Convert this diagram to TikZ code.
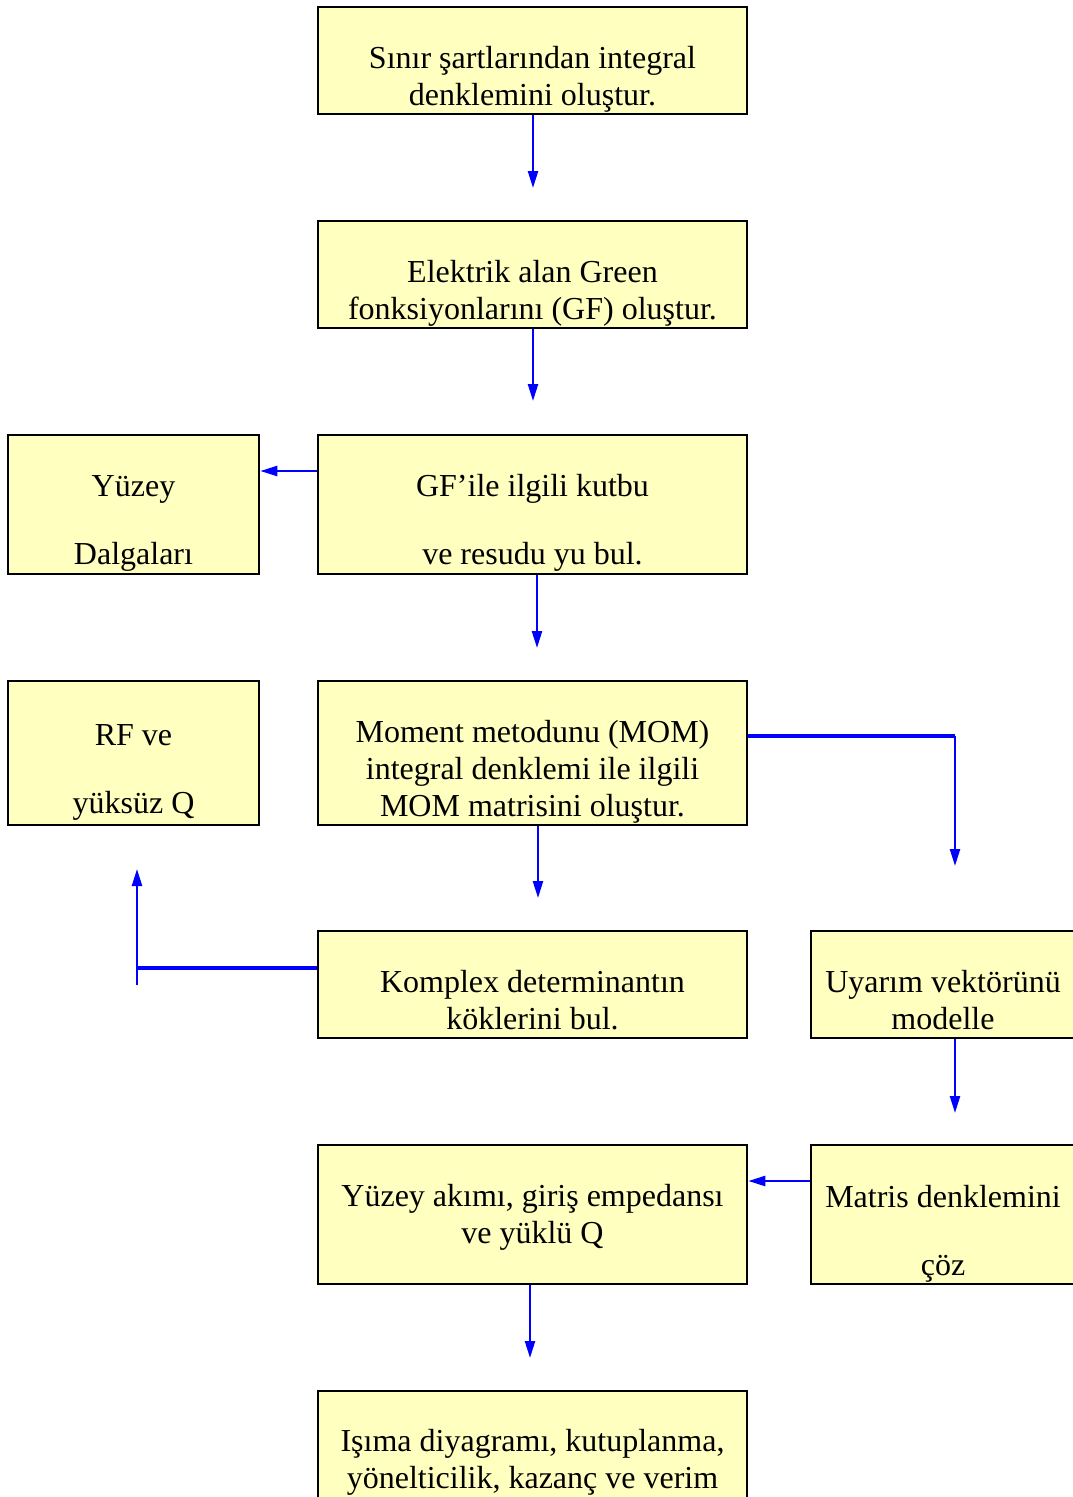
\documentclass[tikz,border=0pt]{standalone}
\usepackage{fontspec}
\setmainfont{Liberation Serif}
\usetikzlibrary{arrows.meta}
\definecolor{boxfill}{HTML}{FFFFC0}
\definecolor{linkblue}{HTML}{0000FF}
\tikzset{
  box/.style={draw=black, line width=2.6pt, fill=boxfill, rectangle, inner sep=0pt},
  txt/.style={align=center, anchor=base, inner sep=0pt, font=\fontsize{32}{37}\selectfont},
  arr/.style={draw=linkblue, line width=2.4pt, -{Triangle[length=17pt,width=10pt]}},
  link/.style={draw=linkblue, line width=3.2pt},
}
\begin{document}
\begin{tikzpicture}[x=1pt,y=-1pt]
\useasboundingbox (0,0) rectangle (1073,1497);
\clip (0,0) rectangle (1073,1497);
% boxes
\node[box, minimum width=429pt, minimum height=107pt] (A) at (532.5,60.5) {};
\node[box, minimum width=429pt, minimum height=107pt] (B) at (532.5,274.5) {};
\node[box, minimum width=429pt, minimum height=139pt] (C) at (532.5,504.5) {};
\node[box, minimum width=251pt, minimum height=139pt] (S) at (133.5,504.5) {};
\node[box, minimum width=429pt, minimum height=144pt] (M) at (532.5,753) {};
\node[box, minimum width=251pt, minimum height=144pt] (R) at (133.5,753) {};
\node[box, minimum width=429pt, minimum height=107pt] (K) at (532.5,984.5) {};
\node[box, minimum width=264pt, minimum height=107pt] (U) at (943,984.5) {};
\node[box, minimum width=429pt, minimum height=139pt] (Y) at (532.5,1214.5) {};
\node[box, minimum width=264pt, minimum height=139pt] (D) at (943,1214.5) {};
\node[box, minimum width=429pt, minimum height=107pt] (I) at (532.5,1444.5) {};
% texts (anchor = baseline of last line)
\node[txt] (tA) at (532.5,105) {Sınır şartlarından integral\\denklemini oluştur.};
\node[txt] (tB) at (532.5,319) {Elektrik alan Green\\fonksiyonlarını (GF) oluştur.};
\node[txt] (tC) at (532.5,564) {GF’ile ilgili kutbu\\[31pt]ve resudu yu bul.};
\node[txt] (tS) at (133.5,564) {Yüzey\\[31pt]Dalgaları};
\node[txt] (tM) at (532.5,816) {Moment metodunu (MOM)\\integral denklemi ile ilgili\\MOM matrisini oluştur.};
\node[txt] (tR) at (133.5,813) {RF ve\\[31pt]yüksüz Q};
\node[txt] (tK) at (532.5,1029) {Komplex determinantın\\köklerini bul.};
\node[txt] (tU) at (943,1029) {Uyarım vektörünü\\modelle};
\node[txt] (tY) at (532.5,1243) {Yüzey akımı, giriş empedansı\\ve yüklü Q};
\node[txt] (tD) at (943,1275) {Matris denklemini\\[31pt]çöz};
\node[txt] (tI) at (532.5,1488) {Işıma diyagramı, kutuplanma,\\yönelticilik, kazanç ve verim};
% free ends
\coordinate (eA) at (533,188);
\coordinate (eB) at (533,401);
\coordinate (eC) at (537,648);
\coordinate (eM) at (538,898);
\coordinate (cM) at (955,736);
\coordinate (eMr) at (955,866);
\coordinate (cK) at (137,968);
\coordinate (bK) at (137,985);
\coordinate (eK) at (137,869);
\coordinate (eU) at (955,1113);
\coordinate (eY) at (530,1358);
% connectors
\draw[arr] (A.south -| eA) -- (eA);
\draw[arr] (B.south -| eB) -- (eB);
\draw[arr] (C.west |- 0,471) -- (S.east |- 0,471);
\draw[arr] (C.south -| eC) -- (eC);
\draw[arr] (M.south -| eM) -- (eM);
\draw[link] (M.east |- cM) -- (cM);
\draw[arr] (cM) -- (eMr);
\draw[link] (K.west |- cK) -- (cK);
\draw[arr] (bK) -- (eK);
\draw[arr] (U.south -| eU) -- (eU);
\draw[arr] (D.west |- 0,1181) -- (Y.east |- 0,1181);
\draw[arr] (Y.south -| eY) -- (eY);
\end{tikzpicture}
\end{document}
